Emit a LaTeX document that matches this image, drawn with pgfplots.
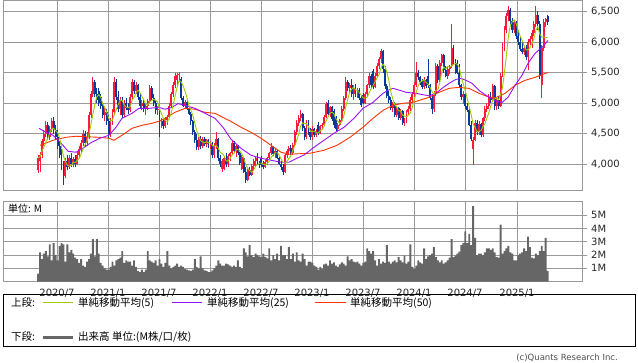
\documentclass[border=0pt]{standalone}
\usepackage{pgfplots}
\pgfplotsset{compat=1.18}
\usepackage{pgfplotstable}
\usepackage{fontspec}
\setmainfont{DejaVu Sans}
\newfontfamily\jp{Noto Sans CJK JP}
\definecolor{cup}{HTML}{FF1A3C}
\definecolor{cdn}{HTML}{0A3A9A}
\definecolor{mafive}{HTML}{99CC00}
\definecolor{matf}{HTML}{9910FF}
\definecolor{mafifty}{HTML}{FF3300}
\definecolor{gridc}{HTML}{999999}
\definecolor{volc}{HTML}{666666}

\pgfplotstableread{
i o h l c v m
0 3900 4150 3850 4100 0.6 4100
1 4050 4200 3880 4150 2.2 4125
2 4150 4420 4100 4380 1.7 4210
3 4380 4560 4300 4500 2.1 4283
4 4500 4700 4450 4650 2.3 4356
5 4650 4690 4400 4450 1.9 4426
6 4450 4620 4400 4580 2.8 4512
7 4580 4750 4520 4700 1.6 4576
8 4700 4770 4500 4560 2.9 4588
9 4560 4650 4400 4450 2.0 4548
10 4450 4560 4250 4300 1.6 4518
11 4300 4380 4100 4150 2.7 4432
12 4150 4250 3900 3950 2.9 4282
13 3950 4050 3660 3800 2.8 4130
14 3800 4110 3780 4050 1.5 4050
15 4050 4150 3900 3950 2.8 3980
16 3950 4150 3920 4100 2.2 3970
17 4100 4180 3950 4000 2.4 3980
18 4000 4120 3950 4080 2.1 4036
19 4080 4150 3960 4000 1.8 4026
20 4000 4200 3980 4150 1.7 4066
21 4150 4300 4100 4250 1.4 4096
22 4250 4400 4200 4350 1.7 4166
23 4350 4560 4300 4500 1.2 4250
24 4500 4550 4280 4350 1.1 4320
25 4350 4520 4300 4450 1.5 4380
26 4450 4850 4420 4800 1.7 4490
27 4800 5200 4750 5150 2.1 4650
28 5150 5420 5100 5350 3.2 4820
29 5350 5380 5100 5150 1.9 4980
30 5150 5250 5000 5050 3.2 5100
31 5200 5250 4950 5000 2.1 5140
32 5100 5150 4900 4950 1.4 5100
33 4950 5000 4750 4800 1.2 4990
34 4800 4930 4700 4850 1.0 4930
35 4850 4900 4650 4700 0.9 4860
36 4700 4800 4430 4500 0.9 4760
37 4500 4750 4450 4700 1.1 4710
38 4700 4900 4650 4850 1.5 4720
39 4850 5420 4800 5350 1.2 4820
40 5350 5400 5050 5100 1.6 4900
41 5100 5200 4850 4900 1.7 4980
42 4900 5100 4800 5050 1.8 5050
43 5050 5100 4750 4800 2.3 5040
44 4800 5050 4780 5000 1.4 4970
45 5000 5080 4880 4920 1.6 4934
46 4920 5000 4830 4880 1.5 4930
47 4880 5150 4850 5100 1.5 4940
48 5100 5400 5050 5350 1.2 5050
49 5350 5380 5150 5200 1.6 5090
50 5200 5350 5150 5300 1.1 5166
51 5300 5320 5050 5100 0.8 5210
52 5100 5160 4900 4950 0.7 5180
53 4950 5050 4880 5000 0.9 5110
54 5000 5050 4850 4900 0.7 5050
55 4900 4980 4800 4950 0.9 4980
56 4950 5060 4880 5030 2.3 4966
57 5030 5290 5000 5250 1.6 5026
58 5250 5280 5050 5080 1.5 5042
59 5080 5150 4950 5000 1.4 5062
60 5000 5050 4830 4880 1.6 5048
61 4880 4950 4800 4900 1.2 5022
62 4900 4920 4440 4650 1.7 4902
63 4650 4750 4600 4700 1.35 4826
64 4700 4740 4580 4620 1.1 4750
65 4620 4780 4600 4720 1.4 4718
66 4720 4800 4650 4780 2.3 4694
67 4780 5000 4750 4950 1.2 4754
68 4950 5180 4920 5150 1.0 4844
69 5150 5350 5100 5300 1.1 4980
70 5300 5500 5250 5450 1.2 5126
71 5380 5500 5300 5460 1.35 5262
72 5460 5510 5350 5480 1.1 5368
73 5400 5420 5050 5080 1.2 5354
74 5080 5120 4930 4950 1.1 5284
75 4950 5050 4900 5020 0.95 5198
76 5020 5040 4880 4920 0.9 5090
77 4920 4960 4800 4830 0.85 4960
78 4830 4850 4650 4700 0.8 4884
79 4700 4720 4480 4520 0.9 4798
80 4520 4560 4350 4400 1.7 4674
81 4400 4500 4230 4280 1.1 4546
82 4280 4450 4230 4420 1.0 4464
83 4420 4460 4250 4300 1.9 4384
84 4300 4450 4260 4420 1.0 4364
85 4420 4440 4300 4330 0.85 4350
86 4330 4420 4280 4390 0.8 4372
87 4390 4410 4260 4300 0.7 4348
88 4300 4380 4250 4350 0.7 4358
89 4350 4360 4100 4150 0.85 4304
90 4150 4350 4100 4300 1.0 4298
91 4300 4520 4250 4420 1.2 4304
92 4420 4430 4050 4100 1.6 4264
93 4100 4150 3950 4000 1.35 4194
94 3920 4080 3880 4050 1.2 4174
95 3930 4120 3900 4100 1.2 4134
96 4100 4180 3950 4000 1.35 4050
97 4000 4170 3960 4130 1.3 4056
98 4130 4200 4050 4180 1.2 4092
99 4180 4400 4150 4350 1.1 4152
100 4350 4380 4180 4220 1.2 4176
101 4220 4330 4120 4300 1.1 4236
102 4300 4320 4150 4180 1.6 4246
103 4180 4200 3980 4020 1.1 4214
104 3920 4150 3900 4120 1.0 4168
105 4100 4110 3850 3880 2.5 4100
106 3880 3950 3700 3750 2.2 3990
107 3750 3920 3720 3900 1.9 3934
108 3900 3950 3800 3830 2.75 3896
109 3830 4000 3800 3970 2.0 3866
110 3970 4080 3900 4050 1.85 3900
111 4050 4120 3950 4100 2.1 3970
112 4100 4180 3980 4000 2.0 3990
113 4000 4050 3940 3960 1.9 4016
114 4100 4130 3950 3980 1.85 4018
115 3980 4060 3920 3960 2.1 4000
116 3960 4070 3940 4040 1.85 3988
117 4040 4120 3990 4100 1.75 4008
118 4100 4200 4060 4180 2.5 4052
119 4180 4340 4150 4280 1.6 4112
120 4280 4300 4130 4160 2.0 4152
121 4160 4250 4100 4220 1.7 4188
122 4220 4240 4080 4100 2.1 4188
123 4100 4120 3980 4000 1.6 4152
124 4000 4060 3900 3950 2.7 4086
125 3950 4000 3820 3880 2.0 4030
126 3880 4180 3860 4150 2.0 4016
127 4150 4250 4100 4220 1.7 4040
128 4220 4300 4150 4270 2.6 4094
129 4270 4310 4150 4180 1.7 4140
130 4180 4350 4150 4320 2.1 4228
131 4320 4560 4280 4520 1.5 4302
132 4520 4720 4480 4680 2.2 4394
133 4680 4800 4620 4760 1.6 4492
134 4760 4880 4700 4830 1.5 4622
135 4830 4840 4550 4600 2.1 4678
136 4600 4620 4390 4450 1.7 4664
137 4450 4720 4420 4680 1.2 4664
138 4680 4720 4480 4520 1.5 4616
139 4520 4600 4400 4450 1.5 4540
140 4450 4620 4400 4580 1.4 4536
141 4580 4600 4450 4480 1.2 4542
142 4480 4570 4440 4550 1.1 4516
143 4650 4690 4480 4510 0.9 4514
144 4510 4650 4490 4630 1.1 4550
145 4630 4680 4580 4650 0.95 4564
146 4650 4800 4620 4770 1.3 4622
147 4770 5020 4760 4990 1.35 4710
148 5010 5046 4800 4830 1.2 4774
149 4830 4960 4780 4930 1.6 4834
150 4930 4950 4700 4740 1.35 4852
151 4870 4900 4600 4640 1.45 4826
152 4760 4790 4540 4570 1.2 4742
153 4570 4680 4540 4650 1.1 4706
154 4650 4740 4620 4720 1.3 4664
155 4720 4950 4700 4900 1.45 4696
156 4900 5120 4870 5080 1.35 4784
157 5080 5420 5050 5350 1.2 4940
158 5350 5380 5200 5250 1.9 5060
159 5250 5330 5180 5300 1.6 5176
160 5300 5400 5100 5150 1.7 5226
161 5150 5300 5050 5250 1.5 5260
162 5280 5320 5100 5130 1.45 5216
163 5130 5250 5080 5220 1.5 5210
164 5220 5240 5050 5080 1.35 5166
165 5080 5120 4930 4970 1.2 5130
166 5130 5160 4980 5000 1.4 5080
167 5000 5180 4980 5150 1.5 5084
168 5150 5320 5120 5290 2.5 5098
169 5290 5500 5250 5450 2.3 5172
170 5450 5480 5250 5300 2.1 5238
171 5520 5560 5230 5270 2.3 5292
172 5270 5500 5240 5450 1.6 5352
173 5450 5650 5420 5600 1.2 5414
174 5600 5760 5560 5720 1.7 5468
175 5720 5890 5650 5850 1.35 5578
176 5850 5870 5500 5560 1.5 5636
177 5560 5600 5230 5280 1.4 5602
178 5280 5320 5080 5120 2.75 5506
179 5120 5200 5000 5050 1.5 5372
180 5050 5100 4880 4920 1.35 5186
181 4920 5020 4860 4990 1.5 5072
182 4990 5020 4780 4800 1.6 4976
183 4800 4950 4770 4920 1.45 4936
184 4920 4940 4720 4750 1.85 4876
185 4750 4900 4720 4870 1.6 4866
186 4870 4880 4650 4680 1.45 4804
187 4680 4760 4620 4720 1.95 4788
188 4720 4880 4680 4850 1.35 4774
189 4850 4950 4800 4900 1.5 4804
190 4900 5100 4870 5050 2.8 4840
191 5050 5180 5020 5150 1.1 4934
192 5150 5350 5100 5300 0.95 5050
193 5300 5670 5270 5500 1.2 5180
194 5500 5540 5380 5420 1.6 5284
195 5420 5450 5300 5350 1.45 5344
196 5350 5400 5230 5260 1.35 5366
197 5260 5420 5230 5380 2.5 5382
198 5380 5400 5240 5280 1.7 5338
199 5450 5720 5250 5300 1.9 5314
200 5300 5320 5050 5080 2.0 5260
201 5080 5150 4830 4900 2.1 5188
202 4900 5200 4850 5150 2.6 5142
203 5150 5650 5120 5600 1.85 5206
204 5600 5640 5330 5380 1.6 5222
205 5380 5700 5350 5650 1.45 5336
206 5650 5810 5600 5780 1.6 5512
207 5780 5800 5500 5550 1.35 5592
208 5550 5600 5420 5450 1.45 5562
209 5450 5600 5400 5560 1.6 5598
210 5560 5620 5480 5600 1.8 5588
211 5600 6290 5580 5900 3.2 5612
212 5900 5950 5620 5660 1.85 5634
213 5660 5720 5480 5520 1.95 5648
214 5650 5700 5470 5500 2.1 5636
215 5500 5640 5270 5300 2.25 5576
216 5300 5320 5050 5100 2.75 5416
217 5100 5200 4990 5150 2.9 5314
218 5150 5170 4900 4950 3.8 5200
219 4950 5000 4850 4880 2.9 5076
220 4880 4940 4620 4650 3.6 4946
221 4650 4700 4380 4420 2.75 4810
222 4250 4450 3990 4400 5.7 4660
223 4400 4720 4380 4680 3.3 4606
224 4680 4720 4480 4520 2.0 4534
225 4520 4700 4480 4660 2.1 4536
226 4660 4680 4450 4480 2.1 4548
227 4480 4780 4440 4750 2.0 4618
228 4750 4950 4700 4900 2.2 4662
229 4900 5000 4850 4960 2.5 4750
230 4960 5150 4900 5100 2.5 4838
231 5100 5180 5000 5050 2.4 4952
232 5050 5320 5020 5280 2.5 5058
233 5280 5300 4880 4950 2.2 5068
234 4950 5100 4880 5050 1.85 5086
235 5050 5120 4900 4950 1.8 5056
236 4950 5500 4930 5450 4.3 5136
237 5450 5980 5420 5900 2.1 5260
238 5900 6270 5850 6200 2.3 5510
239 6200 6480 6150 6420 2.5 5784
240 6420 6590 6350 6520 2.7 6098
241 6520 6560 6300 6350 2.2 6278
242 6350 6400 6150 6200 2.1 6338
243 6200 6360 6150 6320 1.6 6362
244 6320 6340 6050 6100 1.6 6298
245 6100 6200 5950 6000 2.0 6194
246 6000 6080 5850 5880 2.1 6100
247 5880 6000 5800 5830 2.2 6026
248 5830 5920 5780 5900 2.5 5942
249 5900 5950 5700 5750 2.3 5872
250 5750 6050 5540 6000 3.4 5872
251 6000 6100 5950 6050 2.6 5906
252 6050 6200 5900 6150 1.8 5970
253 6150 6350 6100 6300 1.75 6050
254 6300 6590 6250 6450 2.1 6190
255 6450 6500 6200 6300 2.0 6250
256 6300 6350 5400 5450 2.3 6130
257 5300 5950 5080 5900 2.7 6080
258 5900 6380 5850 6320 2.3 6084
259 6320 6400 6250 6380 3.3 6070
260 6420 6440 6280 6330 0.8 6076
}\candles

\pgfplotstableread{
x y
39 4588
46 4523
53 4474
63 4310
68 4212
76 4196
83 4261
90 4343
99 4420
109 4474
116 4605
122 4752
132 4833
139 4915
149 4915
159 4931
165 4900
172 4931
178 4992
185 4964
195 4915
205 4833
215 4752
223 4605
231 4410
241 4261
251 4147
261 4098
271 4065
281 4033
289 4033
297 4098
304 4150
314 4278
324 4392
334 4507
344 4605
354 4752
363 4915
373 5013
383 5160
388 5209
393 5242
400 5209
406 5177
416 5160
429 5120
436 5160
442 5242
449 5324
456 5389
461 5405
466 5373
472 5324
479 5209
486 5127
495 5040
502 5010
508 5095
515 5291
522 5454
528 5650
535 5814
542 5912
548 6026
}\matwentyfive

\pgfplotstableread{
x y
40 4310
53 4392
66 4441
76 4458
86 4450
99 4441
109 4425
114 4392
122 4474
132 4588
142 4637
152 4670
159 4703
165 4752
175 4850
185 4915
195 4900
205 4850
215 4833
231 4700
241 4605
251 4523
261 4425
271 4310
281 4196
289 4163
297 4170
310 4180
324 4229
337 4310
350 4441
363 4605
373 4752
383 4882
393 4964
403 4997
413 5013
429 5095
439 5177
449 5242
459 5258
469 5242
479 5160
487 5111
495 5085
505 5160
515 5291
525 5373
535 5422
548 5503
}\mafiftytab

\pgfplotsset{
  chartbase/.style={
    scale only axis, anchor=south west,
    width=579pt, xmin=3, xmax=582,
    xtick={57,108,159,210,261,312,363,414,465,517},
    ytick pos=right, yticklabel pos=right,
    tick align=outside, major tick length=5pt,
    xtick style={draw=none},
    ytick style={gridc, line width=0.9pt},
    grid=major, grid style={gridc, line width=0.9pt},
    axis line style={gridc, line width=0.9pt},
    ticklabel style={font=\fontsize{10}{12}\selectfont, text=black!85},
    yticklabel style={anchor=west, inner sep=0pt, xshift=4pt},
  }
}

\begin{document}
\begin{tikzpicture}[x=1pt,y=1pt]
\useasboundingbox (0,0) rectangle (638,362);

\begin{axis}[chartbase, at={(3pt,171.5pt)}, height=190pt,
  ymin=3570, ymax=6680,
  ytick={4000,4500,5000,5500,6000,6500},
  yticklabels={{4,000},{4,500},{5,000},{5,500},{6,000},{6,500}},
  xticklabel=\empty]
  % wicks
  \addplot[forget plot, cup, line width=0.8pt, mark=none,
    quiver={u=0, v=\thisrow{h}-\thisrow{l}},
    restrict expr to domain={\thisrow{c}-\thisrow{o}}{0:100000}]
    table[x expr=38+1.96*\thisrow{i}, y=l] {\candles};
  \addplot[forget plot, cdn, line width=0.8pt, mark=none,
    quiver={u=0, v=\thisrow{h}-\thisrow{l}},
    restrict expr to domain={\thisrow{c}-\thisrow{o}}{-100000:-0.5}]
    table[x expr=38+1.96*\thisrow{i}, y=l] {\candles};
  % bodies
  \addplot[forget plot, cup, line width=1.9pt, mark=none,
    quiver={u=0, v=\thisrow{c}-\thisrow{o}},
    restrict expr to domain={\thisrow{c}-\thisrow{o}}{0:100000}]
    table[x expr=38+1.96*\thisrow{i}, y=o] {\candles};
  \addplot[forget plot, cdn, line width=1.9pt, mark=none,
    quiver={u=0, v=\thisrow{c}-\thisrow{o}},
    restrict expr to domain={\thisrow{c}-\thisrow{o}}{-100000:-0.5}]
    table[x expr=38+1.96*\thisrow{i}, y=o] {\candles};
  % moving averages
  \addplot[mafifty, line width=0.9pt, mark=none] table[x=x, y=y] {\mafiftytab};
  \addplot[matf, line width=0.9pt, mark=none] table[x=x, y=y] {\matwentyfive};
  \addplot[mafive, line width=0.9pt, mark=none] table[x expr=38+1.96*\thisrow{i}, y=m] {\candles};
\end{axis}

\begin{axis}[chartbase, at={(3pt,80.5pt)}, height=80pt,
  ymin=0, ymax=6.05,
  ytick={1,2,3,4,5},
  yticklabels={1M,2M,3M,4M,5M},
  xticklabels={2020/7,2021/1,2021/7,2022/1,2022/7,2023/1,2023/7,2024/1,2024/7,2025/1},
  xticklabel style={anchor=north, inner sep=0pt, yshift=-2pt}]
  \addplot[ybar, bar width=1.9pt, fill=volc, draw=none, bar shift=0pt]
    table[x expr=38+1.96*\thisrow{i}, y=v] {\candles};
\end{axis}

\node[anchor=west, inner sep=0pt, font=\fontsize{10}{12}\selectfont\jp] at (8,153) {単位: M};

% legend box
\draw[black, line width=0.9pt] (3.5,67.7) rectangle (635,16);
\begin{scope}[every node/.style={anchor=west, inner sep=0pt, font=\fontsize{10.5}{12}\selectfont\jp}]
  \node at (11,59) {上段:};
  \draw[mafive, line width=1pt] (43,59) -- (73,59);
  \node at (78,59) {単純移動平均(5)};
  \draw[matf, line width=1pt] (172,59) -- (202,59);
  \node at (207,59) {単純移動平均(25)};
  \draw[mafifty, line width=1pt] (315,59) -- (346,59);
  \node at (350,59) {単純移動平均(50)};
  \node at (11,25) {下段:};
  \draw[volc, line width=3pt] (43,25) -- (73,25);
  \node at (78,25) {出来高 単位:(M株/口/枚)};
\end{scope}
\node[anchor=east, inner sep=0pt, font=\fontsize{8.5}{10}\selectfont, text=black!70] at (618,4.5) {(c)Quants Research Inc.};
\end{tikzpicture}
\end{document}
